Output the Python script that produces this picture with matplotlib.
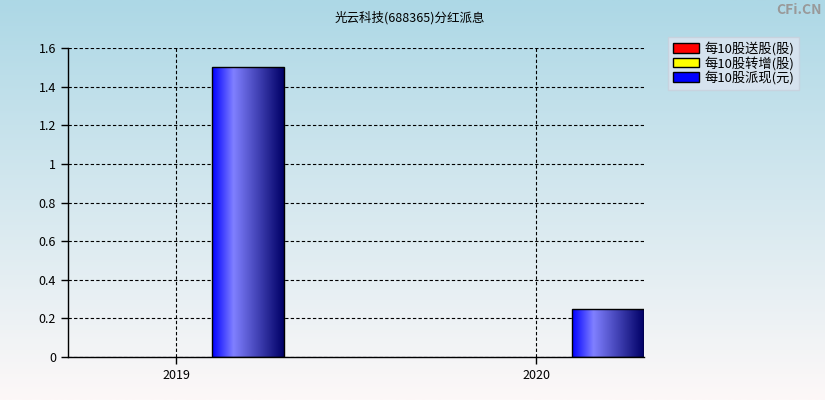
import matplotlib
matplotlib.use("Agg")
import numpy as np
import matplotlib.pyplot as plt
from matplotlib.colors import LinearSegmentedColormap
from matplotlib.patches import Rectangle

plt.rcParams['font.family'] = ['Noto Sans CJK SC', 'DejaVu Sans']

years = ['2019', '2020']
song = [0, 0]        # 每10股送股(股)
zhuan = [0, 0]       # 每10股转增(股)
pai = [1.5, 0.25]    # 每10股派现(元)
series_names = ['每10股送股(股)', '每10股转增(股)', '每10股派现(元)']
series_colors = ['#ff0000', '#ffff00', '#0000ff']
title = '光云科技(688365)分红派息'

W, H = 825, 400
fig = plt.figure(figsize=(W / 100, H / 100), dpi=100)

# background gradient
bg = fig.add_axes([0, 0, 1, 1], zorder=-10)
bg_cmap = LinearSegmentedColormap.from_list('bg', ['#add8e6', '#fdf8f8'])
bg.imshow(np.linspace(0, 1, 256).reshape(-1, 1), aspect='auto', cmap=bg_cmap,
          extent=[0, 1, 0, 1], origin='upper')
bg.axis('off')

ax = fig.add_axes([68 / W, (H - 357) / H, (644 - 68) / W, (357 - 48) / H])
ax.patch.set_alpha(0)

bar_cmap = LinearSegmentedColormap.from_list(
    'bar', [(0, '#0000ff'), (0.3, '#8080ff'), (1, '#000066')])
grad = np.linspace(0, 1, 256).reshape(1, -1)

x = np.arange(len(years))
width = 0.2
for i, vals in enumerate([song, zhuan, pai]):
    for xi, v in zip(x, vals):
        if v <= 0:
            continue
        left = xi + (i - 1) * width - width / 2
        im = ax.imshow(grad, aspect='auto', cmap=bar_cmap,
                       extent=[left, left + width, 0, v], zorder=2)
        rect = Rectangle((left, 0), width, v, facecolor='none',
                         edgecolor='black', linewidth=1, zorder=3)
        ax.add_patch(rect)
        im.set_clip_path(rect)

ax.set_xlim(-0.3, 1.3)
ax.set_ylim(0, 1.6)
ax.set_xticks(x)
ax.set_xticklabels(years)
ax.set_yticks(np.arange(0, 1.61, 0.2))
ax.set_yticklabels(['0', '0.2', '0.4', '0.6', '0.8', '1', '1.2', '1.4', '1.6'])
ax.tick_params(labelsize=9, length=5, width=1, color='black')
ax.grid(True, ls=(0, (3, 2)), color='black', lw=0.8, zorder=1)
ax.set_axisbelow(True)
for s in ['top', 'right']:
    ax.spines[s].set_visible(False)
for s in ['left', 'bottom']:
    ax.spines[s].set_linewidth(1)
    ax.spines[s].set_zorder(4)

fig.text(410 / W, 1 - 18 / H, title, ha='center', va='center', fontsize=9)
fig.text(822 / W, 1 - 10 / H, 'CFi.CN', ha='right', va='center', fontsize=10,
         color='#999999', fontweight='bold')

handles = [Rectangle((0, 0), 1, 1, facecolor=c, edgecolor='black', lw=1)
           for c in series_colors]
leg = fig.legend(handles, series_names, loc='upper left',
                 bbox_to_anchor=(668 / W, 1 - 37 / H), fontsize=9.5,
                 frameon=True, fancybox=False, borderpad=0.35,
                 handlelength=2.0, handleheight=0.75, handletextpad=0.4,
                 labelspacing=0.05, borderaxespad=0)
leg.get_frame().set_facecolor('#dde4f0')
leg.get_frame().set_edgecolor('#c8d0dc')

fig.savefig('out.png', dpi=100)
